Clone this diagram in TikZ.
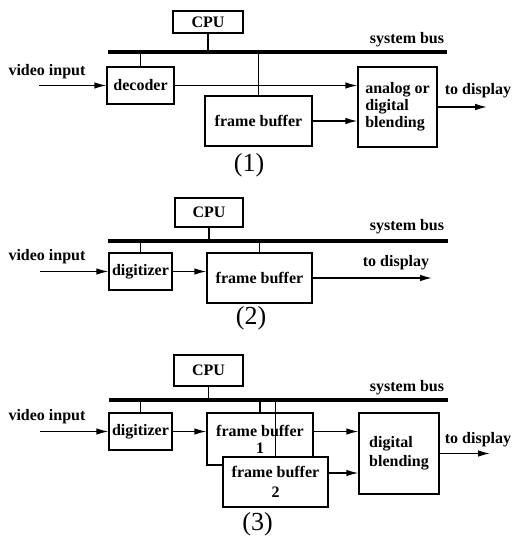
\documentclass[tikz,border=0pt]{standalone}
\usepackage{fontspec}
\setmainfont{Liberation Serif}
\usetikzlibrary{arrows.meta}
\begin{document}
\begin{tikzpicture}[x=1pt,y=-1pt,
 box/.style={draw,line width=1.3pt,fill=white,inner sep=0pt,align=center,font=\fontsize{16}{18}\selectfont\bfseries},
 lbl/.style={inner sep=0pt,font=\fontsize{16}{18}\selectfont\bfseries},
 capt/.style={inner sep=0pt,font=\fontsize{26}{28}\selectfont},
 bus/.style={line width=3.8pt},
 wire/.style={line width=1.3pt},
 arr/.style={line width=1.3pt,-{Latex[length=12pt,width=6.5pt]}}]
\useasboundingbox[fill=white] (0,0) rectangle (520,537);

% ---------- panel 1 ----------
\coordinate (b1l) at (108,52);
\coordinate (b1r) at (447,52);
\coordinate (in1) at (39,85.5);
\coordinate (out1) at (487,107);
\node[box,minimum width=70,minimum height=22] (cpu1) at (208,22) {CPU};
\node[box,minimum width=67,minimum height=37] (dec1) at (140.5,85.5) {decoder};
\node[box,minimum width=107,minimum height=50] (fb1) at (258.5,121) {frame buffer};
\node[box,minimum width=79,minimum height=80,align=left,font=\fontsize{16}{17}\selectfont\bfseries] (bl1) at (397.5,107) {analog or\\digital\\blending};
\draw[bus] (b1l) -- (b1r);
\node[lbl] (sb1) at (407,40) {system bus};
\node[lbl] (vi1) at (47,72) {video input};
\node[lbl] (td1) at (478,91) {to display};
\node[capt] (c1) at (249,165.5) {(1)};
\draw[wire] (cpu1.south) -- (cpu1.south |- b1l);
\draw[wire] (dec1.north) -- (dec1.north |- b1l);
\draw[wire] (fb1.north) -- (fb1.north |- b1l);
\draw[arr] (in1) -- (dec1.west);
\draw[arr] (dec1.east) -- (dec1.east -| bl1.west);
\draw[arr] (fb1.east) -- (fb1.east -| bl1.west);
\draw[arr] (bl1.east) -- (out1);

% ---------- panel 2 ----------
\coordinate (b2l) at (108,241);
\coordinate (b2r) at (448,241);
\coordinate (in2) at (40,271.5);
\coordinate (out2) at (432,278);
\node[box,minimum width=68,minimum height=29] (cpu2) at (209,212.5) {CPU};
\node[box,minimum width=63,minimum height=37] (dig2) at (140.5,271.5) {digitizer};
\node[box,minimum width=105,minimum height=50] (fb2) at (259.5,278) {frame buffer};
\draw[bus] (b2l) -- (b2r);
\node[lbl] (sb2) at (407,227) {system bus};
\node[lbl] (vi2) at (47,257) {video input};
\node[lbl] (td2) at (396,263) {to display};
\node[capt] (c2) at (251,318.5) {(2)};
\draw[wire] (cpu2.south) -- (cpu2.south |- b2l);
\draw[wire] (dig2.north) -- (dig2.north |- b2l);
\draw[wire] (fb2.north) -- (fb2.north |- b2l);
\draw[arr] (in2) -- (dig2.west);
\draw[arr] (dig2.east) -- (dig2.east -| fb2.west);
\draw[arr] (fb2.east) -- (out2);

% ---------- panel 3 ----------
\coordinate (b3l) at (109,400);
\coordinate (b3r) at (448,400);
\coordinate (in3) at (40,431.5);
\coordinate (out3) at (490,453.5);
\node[box,minimum width=69,minimum height=31] (cpu3) at (208.5,370.5) {CPU};
\node[box,minimum width=63,minimum height=37] (dig3) at (140.5,431.5) {digitizer};
\node[box,minimum width=106,minimum height=52,font=\fontsize{16}{17}\selectfont\bfseries] (fb31) at (260,439) {frame buffer\\1};
\node[box,minimum width=105,minimum height=50,font=\fontsize{16}{20}\selectfont\bfseries] (fb32) at (275.5,482) {frame buffer\\2};
\node[box,minimum width=80,minimum height=81,align=left,font=\fontsize{16}{19}\selectfont\bfseries] (bl3) at (399,453.5) {digital\\blending};
\draw[bus] (b3l) -- (b3r);
\node[lbl] (sb3) at (407,388) {system bus};
\node[lbl] (vi3) at (47,417) {video input};
\node[lbl] (td3) at (478,440) {to display};
\node[capt] (c3) at (257.5,524) {(3)};
\draw[wire] (cpu3.south) -- (cpu3.south |- b3l);
\draw[wire] (dig3.north) -- (dig3.north |- b3l);
\draw[wire] (fb31.north) -- (fb31.north |- b3l);
\draw[wire] (fb32.north) -- (fb32.north |- b3l);
\draw[arr] (in3) -- (dig3.west);
\draw[arr] (dig3.east) -- (dig3.east -| fb31.west);
\draw[arr] (dig3.east -| fb31.east) -- (dig3.east -| bl3.west);
\draw[arr] ([yshift=9pt]fb32.east) -- ([yshift=9pt]fb32.east -| bl3.west);
\draw[arr] (bl3.east) -- (out3);
\end{tikzpicture}
\end{document}
